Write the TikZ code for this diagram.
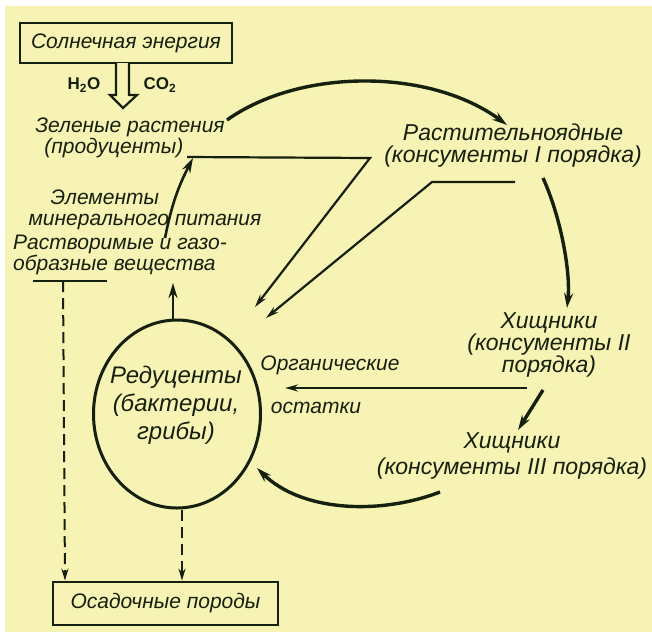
\documentclass[tikz,border=0pt]{standalone}
\usepackage{fontspec}
\setmainfont{Liberation Sans}
\usetikzlibrary{arrows.meta,shapes.geometric}
\definecolor{paper}{RGB}{247,243,180}
\definecolor{ink}{RGB}{22,32,14}
\tikzset{
  lbl/.style={font=\itshape\fontsize{21}{21}\selectfont,text=ink,inner sep=0pt,align=center},
  big/.style={font=\itshape\fontsize{23}{22}\selectfont},
  frame/.style={draw=ink,line width=2.8pt,inner sep=0pt},
  flow/.style={draw=ink,line width=3.4pt,-{Stealth[length=15pt,width=9pt]}},
  feed/.style={draw=ink,line width=2.2pt,-{Stealth[length=13pt,width=7pt]}},
  sink/.style={draw=ink,line width=2pt,dash pattern=on 11pt off 6pt,-{Stealth[length=12pt,width=7pt]}}
}
\begin{document}
\begin{tikzpicture}[x=1pt,y=-1pt]
  \useasboundingbox (0,0) rectangle (652,641);
  \fill[white] (0,0) rectangle (652,641);
  \fill[paper] (5,6) rectangle (652,632);

  % boxes and texts
  \node[frame,lbl,minimum width=212pt,minimum height=40pt] (sun) at (126,43) {Солнечная энергия};
  \node[frame,lbl,minimum width=225pt,minimum height=43pt] (sed) at (165.5,603.5) {Осадочные породы};
  \node[font=\bfseries\fontsize{17}{17}\selectfont,text=ink] (water) at (84,85) {H\textsubscript{2}O};
  \node[font=\bfseries\fontsize{17}{17}\selectfont,text=ink] (carbon) at (160,85) {CO\textsubscript{2}};
  \node[lbl,align=left] (prod) at (130,138) {Зеленые растения\\\hspace*{9pt}(продуценты)};
  \node[lbl,big] (herb) at (513,146) {Растительноядные\\(консументы I порядка)};
  \node[lbl,big] (pred2) at (549,345) {Хищники\\(консументы II\\порядка)};
  \node[lbl,big,font=\itshape\fontsize{23}{26}\selectfont] (pred3) at (512,456) {Хищники\\(консументы III порядка)};
  \node[lbl,align=left] (mineral) at (145,210) {\hspace*{22pt}Элементы\\минерального питания};
  \node[lbl,align=left] (solub) at (120,255) {Растворимые и газо-\\образные вещества};
  \node[ellipse,draw=ink,line width=3pt,minimum width=167pt,minimum height=188pt,inner sep=0pt] (red) at (177,414) {};
  \node[lbl,font=\itshape\fontsize{24}{28}\selectfont] (redtext) at (176,405) {Редуценты\\(бактерии,\\грибы)};
  \node[lbl,font=\itshape\fontsize{21}{20}\selectfont] (orgA) at (330,365) {Органические};
  \node[lbl,font=\itshape\fontsize{21}{20}\selectfont] (orgB) at (316,408) {остатки};

  % sunlight
  \draw[draw=ink,line width=2.2pt,fill=paper] (116,63) -- (116,95) -- (110,95) -- (123,108) -- (137,95) -- (129,95) -- (129,63);

  % food chain
  \coordinate (prodout) at (227,120);
  \coordinate (herbin) at (507,125);
  \draw[flow] (prodout) .. controls (300,68) and (430,68) .. (herbin);
  \coordinate (herbout) at (543,178);
  \coordinate (pred2in) at (567,308);
  \draw[flow] (herbout) .. controls (560,215) and (571,271) .. (pred2in);
  \coordinate (pred2out) at (543,390);
  \coordinate (pred3in) at (518,430);
  \draw[flow] (pred2out) -- (pred3in);
  \coordinate (pred3out) at (440,492);
  \coordinate (redin) at (257,468);
  \draw[flow] (pred3out) .. controls (380,515) and (302,512) .. (redin);
  \draw[feed,line width=2.6pt] (527,388) -- (285,388);

  % remains to reducers
  \coordinate (prodend) at (255,307);
  \coordinate (herbend) at (266,318);
  \draw[feed] (187,157) -- (370,158) -- (prodend);
  \draw[feed] (515,182) -- (432,182) -- (herbend);

  % mineral cycle
  \draw[flow,line width=2.6pt] (165,238) to[bend left=8] (193,158);
  \draw[flow,line width=2.6pt] (red.north) ++(-4,0) -- (173,283);
  \draw[draw=ink,line width=2.4pt] (33,281) -- (107,281);
  \draw[sink] (63,281) -- (sed.north -| 65,0);
  \draw[sink] ([xshift=5pt]red.south) -- (sed.north -| 182,0);
\end{tikzpicture}
\end{document}
